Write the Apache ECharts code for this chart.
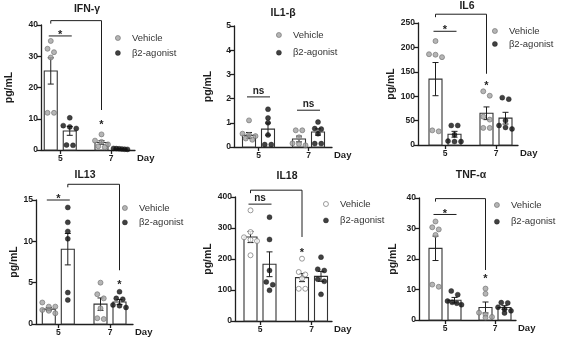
<!DOCTYPE html>
<html>
<head>
<meta charset="utf-8">
<script src="https://cdn.jsdelivr.net/npm/echarts@6.0.0/dist/echarts.min.js"></script>
<style>
  html, body { margin: 0; padding: 0; background: #fff; }
  #chart { width: 561px; height: 340px; }
</style>
</head>
<body>
<div id="chart"></div>
<script>
const days = [5, 7];
const groupNames = ['Vehicle', 'β2-agonist'];
const panelTitles = ['IFN-γ', 'IL1-β', 'IL6', 'IL13', 'IL18', 'TNF-α'];
const yMaxes = [40, 5, 250, 15, 400, 40];
const yIntervals = [10, 1, 50, 5, 100, 10];

// single animals, [day 5 points, day 7 points]
const ifnVehicle = [[34.9, 32.4, 31.3, 29.6, 11.9, 11.9], [5.0, 3.0, 2.6, 1.8, 1.2, 0.9]];
const ifnAgonist = [[10.3, 7.8, 7.4, 6.9, 1.6, 1.5], [0.5, 0.45, 0.4, 0.3, 0.25, 0.2]];
const il1Vehicle = [[1.1, 0.55, 0.5, 0.45, 0.35, 0.3], [0.69, 0.69, 0.4, 0.15, 0.12, 0.07]];
const il1Agonist = [[1.56, 1.2, 1.0, 0.5, 0.1, 0.1], [1.03, 0.76, 0.74, 0.55, 0.14, 0.14]];
const il6Vehicle = [[213, 186, 185, 180, 30, 28], [110, 101, 58, 52, 35, 35]];
const il6Agonist = [[40, 40, 21, 8, 7, 7], [97, 94, 50, 40, 36, 33]];
const il13Vehicle = [[2.6, 2.1, 2.1, 1.7, 1.6, 1.3], [5.0, 3.6, 3.1, 1.9, 0.7, 0.6]];
const il13Agonist = [[14.1, 12.3, 11.2, 10.3, 3.8, 2.9], [3.9, 3.1, 3.0, 2.3, 2.2, 2.0]];
const il18Vehicle = [[357, 287, 270, 262, 258, 212], [201, 158, 150, 137, 104, 104]];
const il18Agonist = [[335, 263, 163, 126, 117, 99], [206, 167, 163, 135, 128, 86]];
const tnfVehicle = [[32.3, 30.4, 29.7, 27.9, 11.6, 10.9], [10.3, 8.6, 2.4, 1.8, 1.0, 0.8]];
const tnfAgonist = [[9.5, 8.3, 6.2, 5.8, 5.5, 5.0], [5.7, 5.6, 4.2, 3.6, 3.0, 2.3]];

// bar heights (mean) and error bars (SEM), [day 5, day 7]
const ifnMean = [[25.3, 2.4], [6.1, 0.35]];
const ifnSem = [[4.2, 0.6], [1.4, 0.05]];
const il1Mean = [[0.48, 0.33], [0.74, 0.62]];
const il1Sem = [[0.12, 0.12], [0.25, 0.13]];
const il6Mean = [[135, 65], [22, 55]];
const il6Sem = [[34, 13], [6, 12]];
const il13Mean = [[1.8, 2.4], [9.05, 2.67]];
const il13Sem = [[0.2, 0.75], [1.9, 0.3]];
const il18Mean = [[271, 140], [183, 144]];
const il18Sem = [[18, 13], [40, 16]];
const tnfMean = [[23.5, 4.1], [6.5, 4.1]];
const tnfSem = [[4, 1.8], [0.9, 0.6]];

// layout of each panel: axis box [left, top, right, bottom], day centres in px
const panels = [
  { pts: [ifnVehicle, ifnAgonist], mean: ifnMean, sem: ifnSem,
    box: [41, 25, 135, 150], centers: [60.25, 111], title: [87, 10], legend: [115, 32, 3], nameGap: 26,
    pairs: [[5, 36.5, '*']], bracket: { y: 41.4, from: 0, to: 0, drop: 12.8, star: 9.0 } },
  { pts: [il1Vehicle, il1Agonist], mean: il1Mean, sem: il1Sem,
    box: [234, 26, 332, 147], centers: [258.5, 308.5], title: [283, 14], legend: [276, 29, 5.7], nameGap: 20.5,
    pairs: [[5, 2.07, 'ns'], [7, 1.52, 'ns']], bracket: null },
  { pts: [il6Vehicle, il6Agonist], mean: il6Mean, sem: il6Sem,
    box: [418, 23, 518, 145], centers: [445, 496], title: [467, 7], legend: [492, 25, 1], nameGap: 19.5,
    pairs: [[5, 233, '*']], bracket: { y: 268, from: 0, to: 0, drop: 146, star: 127 } },
  { pts: [il13Vehicle, il13Agonist], mean: il13Mean, sem: il13Sem,
    box: [36, 200, 133, 324], centers: [58.3, 110], title: [85, 176], legend: [122, 202, 2.4], nameGap: 16.5,
    pairs: [[5, 15.0, '*']], bracket: { y: 16.9, from: 1, to: 1, drop: 6.5, star: 5.1 } },
  { pts: [il18Vehicle, il18Agonist], mean: il18Mean, sem: il18Sem, openVehicle: true,
    box: [235, 197, 332, 321], centers: [260, 311.5], title: [287, 177], legend: [323, 198, 4.4], nameGap: 21.5,
    pairs: [[5, 377, 'ns']], bracket: { y: 422, from: 0, to: 0, drop: 271, star: 228 } },
  { pts: [tnfVehicle, tnfAgonist], mean: tnfMean, sem: tnfSem,
    box: [419, 198, 516, 320], centers: [445, 495], title: [471, 176], legend: [494, 199, 4.7], nameGap: 20.5,
    pairs: [[5, 34.6, '*']], bracket: { y: 39.8, from: 0, to: 0, drop: 16.4, star: 14.4 } }
];

const FONT = 'Liberation Sans';
const INK = '#1e1e1e';
const SIDE = 9.5;   // px from day centre to bar centre
const BAR_W = 13;

const measure = document.createElement('canvas').getContext('2d');
function textWidth(txt, font) { measure.font = font; return measure.measureText(txt).width; }

// spread overlapping points sideways (rows centred, like a scatter dot plot)
function spread(values, pxPerUnit) {
  const order = values.map((v, i) => i).sort((a, b) => values[b] - values[a]);
  const rows = [];
  order.forEach(i => {
    const row = rows[rows.length - 1];
    if (row && (values[row[0]] - values[i]) * pxPerUnit < 4.5) row.push(i);
    else rows.push([i]);
  });
  const offs = [];
  rows.forEach(row => {
    const n = row.length;
    const step = n > 1 ? Math.min(6.5, 14 / (n - 1)) : 0;
    row.forEach((i, k) => { offs[i] = (k - (n - 1) / 2) * step; });
  });
  return offs;
}

function renderBar(params, api) {
  const day = api.value(0), mean = api.value(1), sem = api.value(2), side = api.value(3);
  const base = api.coord([day, 0]);
  const top = api.coord([day, mean]);
  const hi = api.coord([day, mean + sem])[1];
  const lo = api.coord([day, Math.max(0, mean - sem)])[1];
  const cx = base[0] + (side ? SIDE : -SIDE);
  const st = { stroke: INK, lineWidth: 1 };
  return {
    type: 'group',
    children: [
      { type: 'rect', shape: { x: cx - BAR_W / 2, y: top[1], width: BAR_W, height: base[1] - top[1] },
        style: { fill: '#fff', stroke: '#333', lineWidth: 1.1 } },
      { type: 'line', shape: { x1: cx, y1: hi, x2: cx, y2: lo }, style: st },
      { type: 'line', shape: { x1: cx - 3, y1: hi, x2: cx + 3, y2: hi }, style: st },
      { type: 'line', shape: { x1: cx - 3, y1: lo, x2: cx + 3, y2: lo }, style: st }
    ]
  };
}

function starText(txt, x, y) {
  return { type: 'text', x: x, y: y,
    style: { text: txt, align: 'center', verticalAlign: 'middle', fill: INK,
      font: 'bold ' + (txt === '*' ? 11 : 10) + 'px ' + FONT } };
}

function annotations(p) {
  return function (params, api) {
    const px = (day, side) => api.coord([day, 0])[0] + (side ? SIDE : -SIDE);
    const py = v => api.coord([days[0], v])[1];
    const st = { stroke: INK, lineWidth: 1, fill: null };
    const children = [];
    p.pairs.forEach(([day, y, txt]) => {
      const yy = py(y);
      children.push({ type: 'line', shape: { x1: px(day, 0) - 2, y1: yy, x2: px(day, 1) + 2, y2: yy }, style: st });
      children.push(starText(txt, (px(day, 0) + px(day, 1)) / 2, yy - (txt === '*' ? 1 : 6)));
    });
    if (p.bracket) {
      const b = p.bracket;
      const yy = py(b.y);
      const x1 = px(days[0], b.from), x2 = px(days[1], b.to);
      children.push({ type: 'polyline', shape: { points: [[x1, yy + 3], [x1, yy], [x2, yy], [x2, py(b.drop)]] }, style: st });
      children.push(starText('*', x2, py(b.star) + 3));
    }
    return { type: 'group', children: children };
  };
}

const option = { animation: false, title: [], legend: [], grid: [], xAxis: [], yAxis: [], series: [] };

panels.forEach((p, i) => {
  const [L, T, R, B] = p.box;
  const s = (p.centers[1] - p.centers[0]) / (days[1] - days[0]);
  const pxPerUnit = (B - T) / yMaxes[i];
  const vehStyle = p.openVehicle
    ? { color: '#fff', borderColor: '#777', borderWidth: 0.9 }
    : { color: '#a3a3a3', borderColor: '#6e6e6e', borderWidth: 0.8 };
  const agoStyle = { color: '#111', borderColor: '#111', borderWidth: 0.5 };
  const styles = [vehStyle, agoStyle];

  const titleFont = 'bold 10.5px ' + FONT;
  option.title.push({
    text: panelTitles[i], left: p.title[0] - textWidth(panelTitles[i], titleFont) / 2, top: p.title[1] - 6.5, padding: 0,
    textStyle: { fontFamily: FONT, fontSize: 10.5, fontWeight: 'bold', color: INK }
  });
  option.legend.push({
    left: p.legend[0], top: p.legend[1], orient: 'vertical', padding: 0,
    itemWidth: 18, itemHeight: 5, itemGap: p.legend[2], icon: 'circle', selectedMode: false,
    textStyle: { fontFamily: FONT, fontSize: 9.5, color: '#333', lineHeight: 12 },
    data: groupNames.map((n, g) => ({ name: n, itemStyle: styles[g] }))
  });
  option.grid.push({ left: L, top: T, width: R - L, height: B - T });
  option.xAxis.push({
    gridIndex: i, type: 'value',
    min: days[0] - (p.centers[0] - L) / s, max: days[1] + (R - p.centers[1]) / s,
    name: 'Day', nameLocation: 'end', nameGap: 2,
    nameTextStyle: { fontFamily: FONT, fontSize: 9.5, fontWeight: 'bold', color: INK, verticalAlign: 'top', padding: [3, 0, 0, 0] },
    axisLine: { onZero: false, lineStyle: { color: INK, width: 1.3 } },
    axisTick: { customValues: days, length: 4, lineStyle: { color: INK, width: 1.3 } },
    axisLabel: { customValues: days, margin: 4, fontFamily: FONT, fontSize: 8.5, fontWeight: 'bold', color: INK },
    splitLine: { show: false }
  });
  option.yAxis.push({
    gridIndex: i, type: 'value', min: 0, max: yMaxes[i], interval: yIntervals[i],
    name: 'pg/mL', nameLocation: 'middle', nameGap: p.nameGap,
    nameTextStyle: { fontFamily: FONT, fontSize: 10.5, fontWeight: 'bold', color: INK },
    axisLine: { show: true, onZero: false, lineStyle: { color: INK, width: 1.3 } },
    axisTick: { show: true, length: 4, lineStyle: { color: INK, width: 1.3 } },
    axisLabel: { margin: 3, fontFamily: FONT, fontSize: 8.5, fontWeight: 'bold', color: INK },
    splitLine: { show: false }
  });

  const barData = [];
  [0, 1].forEach(g => days.forEach((d, k) => barData.push([d, p.mean[g][k], p.sem[g][k], g])));
  option.series.push({
    type: 'custom', xAxisIndex: i, yAxisIndex: i, silent: true, z: 2,
    renderItem: renderBar, data: barData
  });

  [0, 1].forEach(g => {
    const data = [];
    days.forEach((d, k) => {
      const vals = p.pts[g][k];
      const offs = spread(vals, pxPerUnit);
      vals.forEach((v, j) => data.push({
        value: [d, v], symbolOffset: [(g ? SIDE : -SIDE) + offs[j], 0]
      }));
    });
    option.series.push({
      type: 'scatter', name: groupNames[g], xAxisIndex: i, yAxisIndex: i, z: 3,
      symbol: 'circle', symbolSize: 5, clip: false, itemStyle: styles[g], data: data
    });
  });

  option.series.push({
    type: 'custom', xAxisIndex: i, yAxisIndex: i, silent: true, z: 4, clip: false,
    renderItem: annotations(p), data: [[days[0], 0]]
  });
});

const chart = echarts.init(document.getElementById('chart'));
chart.setOption(option);
</script>
</body>
</html>
